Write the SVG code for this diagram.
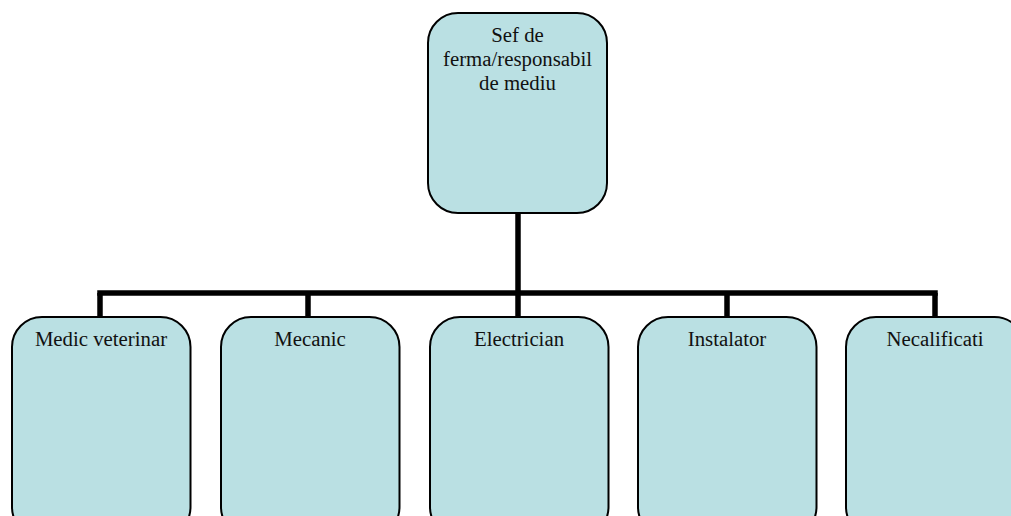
<svg xmlns="http://www.w3.org/2000/svg" width="1011" height="516" viewBox="0 0 1011 516">
<style>
.box{fill:#bae0e3;stroke:#000;stroke-width:2}
.conn{fill:none;stroke:#000;stroke-width:5.5}
text{font-family:"Liberation Serif","Times New Roman",serif;font-size:20.8px;fill:#111;text-anchor:middle}
</style>
<rect width="1011" height="516" fill="#fff"/>
<g id="connectors">
<line class="conn" x1="518" y1="213" x2="518" y2="318"/>
<line class="conn" x1="97.25" y1="293" x2="937.75" y2="293"/>
<line class="conn" x1="100" y1="293" x2="100" y2="318"/>
<line class="conn" x1="308" y1="293" x2="308" y2="318"/>
<line class="conn" x1="727" y1="293" x2="727" y2="318"/>
<line class="conn" x1="935" y1="293" x2="935" y2="318"/>
</g>
<g id="node-sef">
<rect class="box" x="428" y="13" width="179" height="200" rx="30"/>
<text x="517.5" y="42">Sef de</text>
<text x="517.5" y="66">ferma/responsabil</text>
<text x="517.5" y="89.5">de mediu</text>
</g>
<g id="node-medic">
<rect class="box" x="12" y="317" width="178.5" height="220" rx="30"/>
<text x="101" y="346">Medic veterinar</text>
</g>
<g id="node-mecanic">
<rect class="box" x="221" y="317" width="178.5" height="220" rx="30"/>
<text x="310" y="346">Mecanic</text>
</g>
<g id="node-electrician">
<rect class="box" x="430" y="317" width="178.5" height="220" rx="30"/>
<text x="519" y="346">Electrician</text>
</g>
<g id="node-instalator">
<rect class="box" x="638" y="317" width="178.5" height="220" rx="30"/>
<text x="727" y="346">Instalator</text>
</g>
<g id="node-necalificati">
<rect class="box" x="846" y="317" width="178.5" height="220" rx="30"/>
<text x="935" y="346">Necalificati</text>
</g>
</svg>
